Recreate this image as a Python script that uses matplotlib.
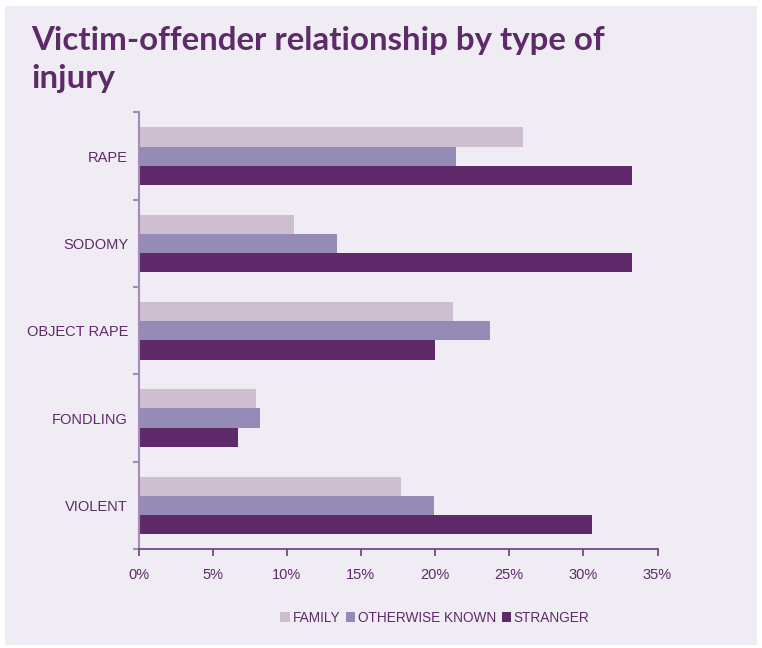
import numpy as np
import matplotlib.pyplot as plt
from matplotlib.patches import Patch

# share of each injury type by victim-offender relationship (%)
injuries = ['RAPE', 'SODOMY', 'OBJECT RAPE', 'FONDLING', 'VIOLENT']
family = [25.9, 10.5, 21.2, 7.9, 17.7]
otherwise_known = [21.4, 13.4, 23.7, 8.2, 19.9]
stranger = [33.3, 33.3, 20.0, 6.7, 30.6]

series_names = ['FAMILY', 'OTHERWISE KNOWN', 'STRANGER']
colors = ['#cdbfd0', '#948bb6', '#5e2a69']
bg = '#efecf3'
txt = '#5e2a69'

plt.rcParams['font.family'] = ['Liberation Sans Narrow', 'Liberation Sans', 'DejaVu Sans']

fig = plt.figure(figsize=(7.62, 6.48), dpi=100)
fig.patch.set_facecolor('white')
fig.patches.append(plt.Rectangle((5 / 762, 3 / 648), 752 / 762, 639 / 648,
                                 transform=fig.transFigure, facecolor=bg,
                                 edgecolor='none', zorder=-10))

ax = fig.add_axes([138.5 / 762, 1 - 549 / 648, 519 / 762, 436.5 / 648])
ax.set_facecolor(bg)

y = np.arange(len(injuries))
h = 0.22
for i, (vals, name) in enumerate(zip([family, otherwise_known, stranger], series_names)):
    ax.barh(y - h + i * h, vals, height=h, color=colors[i], label=name)

ax.set_ylim(len(injuries) - 0.5, -0.5)
ax.set_xlim(0, 35)
ax.set_xticks(np.arange(0, 36, 5))
ax.set_xticklabels([f'{v}%' for v in range(0, 36, 5)])
ax.set_yticks(y)
ax.set_yticklabels(injuries)
ax.set_yticks(np.arange(-0.5, len(injuries), 1), minor=True)

for s in ['top', 'right']:
    ax.spines[s].set_visible(False)
ax.spines['left'].set_color('#a78ab5')
ax.spines['left'].set_linewidth(1.5)
ax.spines['bottom'].set_color('#6a3d78')
ax.spines['bottom'].set_linewidth(1.2)

ax.tick_params(axis='y', which='major', length=0, pad=7.5, labelsize=10.5, labelcolor=txt)
ax.tick_params(axis='y', which='minor', length=4, width=1.5, color='#a78ab5')
ax.tick_params(axis='x', length=5, width=1.2, color='#6a3d78', pad=9,
               labelsize=10.5, labelcolor=txt)

# two-line title, baselines placed explicitly
title_font = dict(fontsize=23.8, fontweight='bold', color=txt, va='baseline',
                  family=['Lato', 'DejaVu Sans'])
fig.text(31 / 762, 1 - 50 / 648, 'Victim-offender relationship by type of', **title_font)
fig.text(31 / 762, 1 - 88 / 648, 'injury', **title_font)

handles = [Patch(facecolor=c, label=n) for c, n in zip(colors, series_names)]
fig.legend(handles=handles, loc='center', bbox_to_anchor=(435 / 762, 1 - 618 / 648),
           ncol=3, frameon=False, fontsize=9.8, labelcolor=txt, handlelength=0.7,
           handleheight=0.7, handletextpad=0.2, columnspacing=0.4)

fig.savefig('out.png', dpi=100, facecolor='white')
